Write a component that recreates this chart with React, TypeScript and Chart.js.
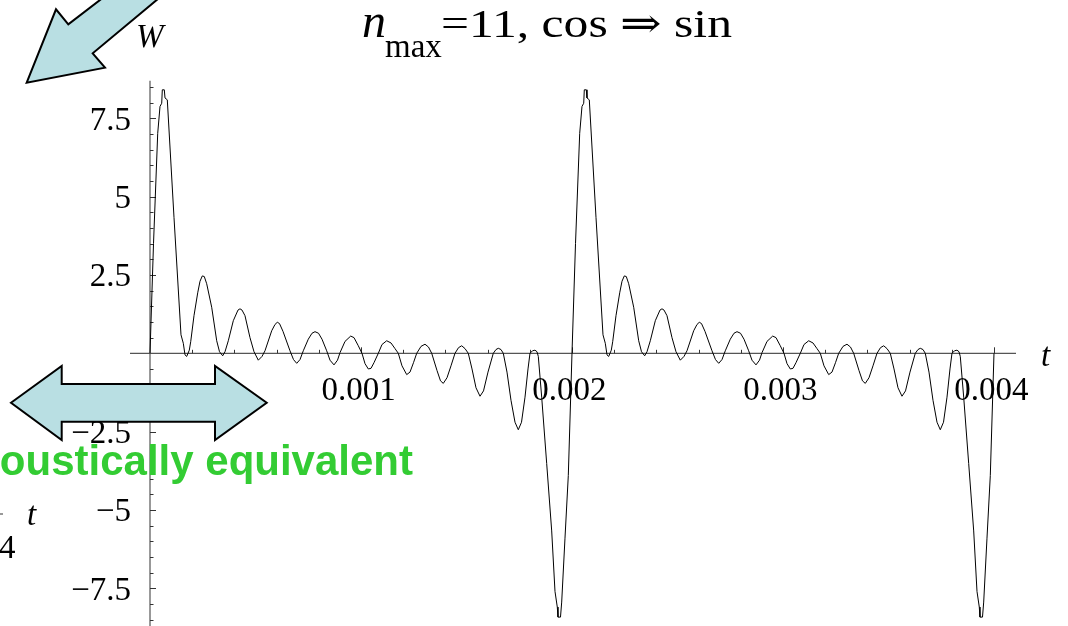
import React, { useEffect, useRef } from "react";
import { Chart, registerables } from "chart.js";

Chart.register(...registerables);

// W(t) over the first cycle, t in milliseconds
const cycleOneMs = [
  0, 0.0166, 0.0365, 0.0474, 0.0555, 0.0583, 0.0678, 0.0711, 0.082, 0.1137,
  0.1469, 0.1578, 0.1659, 0.1739, 0.1863, 0.1929, 0.2085, 0.2261, 0.237, 0.2479,
  0.2573, 0.2687, 0.2924, 0.3161, 0.3294, 0.3445, 0.3555, 0.3711, 0.3948, 0.4171,
  0.4265, 0.436, 0.4502, 0.4739, 0.4929, 0.5133, 0.5308, 0.545, 0.5768, 0.5924,
  0.6033, 0.6137, 0.6303, 0.6635, 0.6801, 0.6953, 0.7109, 0.7265, 0.7502, 0.7678,
  0.782, 0.7986, 0.8152, 0.8374, 0.8531, 0.872, 0.8886, 0.9005, 0.9242, 0.9512,
  0.9668, 0.9872, 1.0047, 1.019, 1.0346, 1.0474, 1.0616, 1.082, 1.0995, 1.1218,
  1.1422, 1.1611, 1.1768, 1.1943, 1.2166, 1.2322, 1.2488, 1.264, 1.2844, 1.3033,
  1.3199, 1.3351, 1.3602, 1.3768, 1.39, 1.4076, 1.4265, 1.4455, 1.4621, 1.4773,
  1.4929, 1.5085, 1.5261, 1.545, 1.564, 1.5806, 1.6019, 1.627, 1.6398, 1.6507,
  1.6635, 1.6744, 1.6919, 1.7109, 1.7299, 1.7455, 1.7607, 1.7773, 1.7915, 1.8009,
  1.8128, 1.8246, 1.8341, 1.8403, 1.8564, 1.8801, 1.9038, 1.9194, 1.9303, 1.9336,
  1.9455, 1.9512, 1.9668, 1.9825, 2.0,
];
const cycleOneW = [
  0, 3.5, 7.02, 7.88, 7.98, 8.41, 8.41, 8.15, 8.09, 4.34,
  0.59, 0.32, -0.05, -0.1, 0.1, 0.37, 1.2, 1.93, 2.3, 2.47,
  2.45, 2.22, 1.47, 0.4, 0.05, -0.08, 0.05, 0.4, 1.04, 1.38,
  1.42, 1.38, 1.2, 0.5, 0.05, -0.22, -0.1, 0.08, 0.72, 0.92,
  0.99, 0.95, 0.7, 0.08, -0.2, -0.32, -0.2, 0.08, 0.45, 0.64,
  0.69, 0.64, 0.45, 0.08, -0.22, -0.37, -0.22, 0.02, 0.38, 0.55,
  0.5, 0.24, 0, -0.33, -0.5, -0.48, -0.3, 0, 0.28, 0.4,
  0.33, 0.15, 0, -0.4, -0.68, -0.6, -0.3, 0, 0.22, 0.29,
  0.2, 0, -0.55, -0.88, -0.96, -0.78, -0.4, 0, 0.18, 0.24,
  0.15, 0, -0.5, -1.1, -1.37, -1.2, -0.6, 0, 0.12, 0.16,
  0.12, 0, -0.6, -1.5, -2.2, -2.44, -2.2, -1.4, -0.5, 0,
  0.08, 0.1, 0.05, -0.1, -1.4, -3.52, -5.67, -7.6, -8.1, -8.42,
  -8.42, -7.94, -5.9, -3.9, 0,
];

// W(t) over the second cycle, t in milliseconds
const cycleTwoMs = [
  2.0166, 2.0365, 2.0474, 2.0555, 2.0583, 2.0678, 2.0711, 2.082, 2.1137,
  2.1469, 2.1578, 2.1659, 2.1739, 2.1863, 2.1929, 2.2085, 2.2261, 2.237, 2.2479,
  2.2573, 2.2687, 2.2924, 2.3161, 2.3294, 2.3445, 2.3555, 2.3711, 2.3948, 2.4171,
  2.4265, 2.436, 2.4502, 2.4739, 2.4929, 2.5133, 2.5308, 2.545, 2.5768, 2.5924,
  2.6033, 2.6137, 2.6303, 2.6635, 2.6801, 2.6953, 2.7109, 2.7265, 2.7502, 2.7678,
  2.782, 2.7986, 2.8152, 2.8374, 2.8531, 2.872, 2.8886, 2.9005, 2.9242, 2.9512,
  2.9668, 2.9872, 3.0047, 3.019, 3.0346, 3.0474, 3.0616, 3.082, 3.0995, 3.1218,
  3.1422, 3.1611, 3.1768, 3.1943, 3.2166, 3.2322, 3.2488, 3.264, 3.2844, 3.3033,
  3.3199, 3.3351, 3.3602, 3.3768, 3.39, 3.4076, 3.4265, 3.4455, 3.4621, 3.4773,
  3.4929, 3.5085, 3.5261, 3.545, 3.564, 3.5806, 3.6019, 3.627, 3.6398, 3.6507,
  3.6635, 3.6744, 3.6919, 3.7109, 3.7299, 3.7455, 3.7607, 3.7773, 3.7915, 3.8009,
  3.8128, 3.8246, 3.8341, 3.8403, 3.8564, 3.8801, 3.9038, 3.9194, 3.9303, 3.9336,
  3.9455, 3.9512, 3.9668, 3.9825, 4.0,
];
const cycleTwoW = [
  3.5, 7.02, 7.88, 7.98, 8.41, 8.41, 8.15, 8.09, 4.34,
  0.59, 0.32, -0.05, -0.1, 0.1, 0.37, 1.2, 1.93, 2.3, 2.47,
  2.45, 2.22, 1.47, 0.4, 0.05, -0.08, 0.05, 0.4, 1.04, 1.38,
  1.42, 1.38, 1.2, 0.5, 0.05, -0.22, -0.1, 0.08, 0.72, 0.92,
  0.99, 0.95, 0.7, 0.08, -0.2, -0.32, -0.2, 0.08, 0.45, 0.64,
  0.69, 0.64, 0.45, 0.08, -0.22, -0.37, -0.22, 0.02, 0.38, 0.55,
  0.5, 0.24, 0, -0.33, -0.5, -0.48, -0.3, 0, 0.28, 0.4,
  0.33, 0.15, 0, -0.4, -0.68, -0.6, -0.3, 0, 0.22, 0.29,
  0.2, 0, -0.55, -0.88, -0.96, -0.78, -0.4, 0, 0.18, 0.24,
  0.15, 0, -0.5, -1.1, -1.37, -1.2, -0.6, 0, 0.12, 0.16,
  0.12, 0, -0.6, -1.5, -2.2, -2.44, -2.2, -1.4, -0.5, 0,
  0.08, 0.1, 0.05, -0.1, -1.4, -3.52, -5.67, -7.6, -8.1, -8.42,
  -8.42, -7.94, -5.9, -3.9, 0,
];

const xTickValues = [0.001, 0.002, 0.003, 0.004];
const xTickLabels = ["0.001", "0.002", "0.003", "0.004"];
const yTickValues = [7.5, 5, 2.5, -2.5, -5, -7.5];
const yTickLabels = ["7.5", "5", "2.5", "\u22122.5", "\u22125", "\u22127.5"];

const SERIF = '"Liberation Serif", "DejaVu Serif", serif';

export default function App() {
  const canvasRef = useRef<HTMLCanvasElement | null>(null);

  useEffect(() => {
    const canvas = canvasRef.current;
    if (!canvas) return;

    const points = [
      ...cycleOneMs.map((t, i) => ({ x: t / 1000, y: cycleOneW[i] })),
      ...cycleTwoMs.map((t, i) => ({ x: t / 1000, y: cycleTwoW[i] })),
    ];

    // Mathematica-style axes crossing at the origin
    const axesPlugin = {
      id: "originAxes",
      beforeDatasetsDraw(chart: any) {
        const { ctx, chartArea, scales } = chart;
        const xs = scales.x;
        const ys = scales.y;
        const x0 = xs.getPixelForValue(0);
        const y0 = ys.getPixelForValue(0);
        ctx.save();
        ctx.strokeStyle = "#555";
        ctx.lineWidth = 1.2;
        ctx.beginPath();
        ctx.moveTo(chartArea.left, y0);
        ctx.lineTo(chartArea.right, y0);
        ctx.moveTo(x0, ys.getPixelForValue(8.7));
        ctx.lineTo(x0, chartArea.bottom + 2);
        ctx.stroke();

        ctx.strokeStyle = "#333";
        ctx.lineWidth = 1;
        ctx.beginPath();
        for (let k = -17; k <= 17; k++) {
          if (k === 0) continue;
          const py = Math.round(ys.getPixelForValue(k * 0.5)) + 0.5;
          const len = k % 5 === 0 ? 6 : 3.5;
          ctx.moveTo(x0, py);
          ctx.lineTo(x0 + len, py);
        }
        for (let k = 1; k <= 20; k++) {
          const px = Math.round(xs.getPixelForValue(k * 0.0002)) + 0.5;
          const len = k % 5 === 0 ? 6 : 3.5;
          ctx.moveTo(px, y0);
          ctx.lineTo(px, y0 - len);
        }
        ctx.stroke();
        ctx.restore();
      },
    };

    const labelsPlugin = {
      id: "labelsAndShapes",
      afterDraw(chart: any) {
        const { ctx, scales } = chart;
        const xs = scales.x;
        const ys = scales.y;
        const x0 = xs.getPixelForValue(0);
        const y0 = ys.getPixelForValue(0);
        ctx.save();
        ctx.fillStyle = "#000";
        ctx.textBaseline = "alphabetic";

        // tick labels
        ctx.font = `33px ${SERIF}`;
        ctx.textAlign = "right";
        yTickValues.forEach((v, i) => {
          ctx.fillText(yTickLabels[i], x0 - 19, ys.getPixelForValue(v) + 11.5);
        });
        ctx.textAlign = "center";
        xTickValues.forEach((v, i) => {
          ctx.fillText(xTickLabels[i], xs.getPixelForValue(v) - 2.5, y0 + 47);
        });

        // axis names
        ctx.textAlign = "left";
        ctx.font = `italic 33px ${SERIF}`;
        ctx.fillText("W", 136, 47);
        ctx.fillText("t", 1041, 366);
        ctx.fillText("t", 27, 525);
        ctx.font = `33px ${SERIF}`;
        ctx.fillText("4", -1, 558);
        ctx.strokeStyle = "#555";
        ctx.lineWidth = 1.2;
        ctx.beginPath();
        ctx.moveTo(0, 514);
        ctx.lineTo(3, 514);
        ctx.stroke();

        // title
        ctx.font = `italic 48px ${SERIF}`;
        ctx.fillText("n", 362, 37);
        ctx.font = `33px ${SERIF}`;
        ctx.fillText("max", 385, 57);
        ctx.save();
        ctx.translate(441, 37);
        ctx.scale(1.21, 1);
        ctx.font = `41px ${SERIF}`;
        ctx.fillText("=11, cos \u21D2 sin", 0, 0);
        ctx.restore();

        // green caption
        ctx.fillStyle = "#33cc33";
        ctx.font = 'bold 42px "Liberation Sans", Arial, sans-serif';
        ctx.textAlign = "right";
        ctx.fillText("oustically equivalent", 413, 475);

        // arrows
        ctx.fillStyle = "#b9dfe3";
        ctx.strokeStyle = "#000";
        ctx.lineWidth = 2;
        ctx.lineJoin = "miter";
        const poly = (pts: number[][]) => {
          ctx.beginPath();
          pts.forEach(([px, py], i) => (i ? ctx.lineTo(px, py) : ctx.moveTo(px, py)));
          ctx.closePath();
          ctx.fill();
          ctx.stroke();
        };
        poly([
          [11, 402.7], [61.7, 366], [61.7, 384], [215, 384], [215, 366],
          [266.7, 402.7], [215, 440], [215, 421.7], [61.7, 421.7], [61.7, 440],
        ]);
        poly([
          [26.7, 82.7], [56, 9.3], [68.3, 24.3], [131.3, -24],
          [185.5, -24], [92.7, 53.3], [105, 67.7],
        ]);
        ctx.restore();
      },
    };

    const chart = new Chart(canvas, {
      type: "line",
      data: {
        datasets: [
          {
            data: points,
            borderColor: "#000",
            borderWidth: 1,
            pointRadius: 0,
            tension: 0,
            fill: false,
          },
        ],
      },
      options: {
        animation: false,
        responsive: false,
        events: [],
        layout: { padding: { left: 130, right: 52, top: 80, bottom: 0 } },
        plugins: { legend: { display: false }, tooltip: { enabled: false } },
        scales: {
          x: { type: "linear", min: -0.0000948, max: 0.0041043, display: false },
          y: { type: "linear", min: -8.704, max: 8.723, display: false },
        },
      },
      plugins: [axesPlugin, labelsPlugin],
    });

    return () => chart.destroy();
  }, []);

  return (
    <div style={{ position: "fixed", left: 0, top: 0, width: 1068, height: 626, background: "#fff" }}>
      <canvas ref={canvasRef} width={1068} height={626} style={{ display: "block" }} />
    </div>
  );
}
